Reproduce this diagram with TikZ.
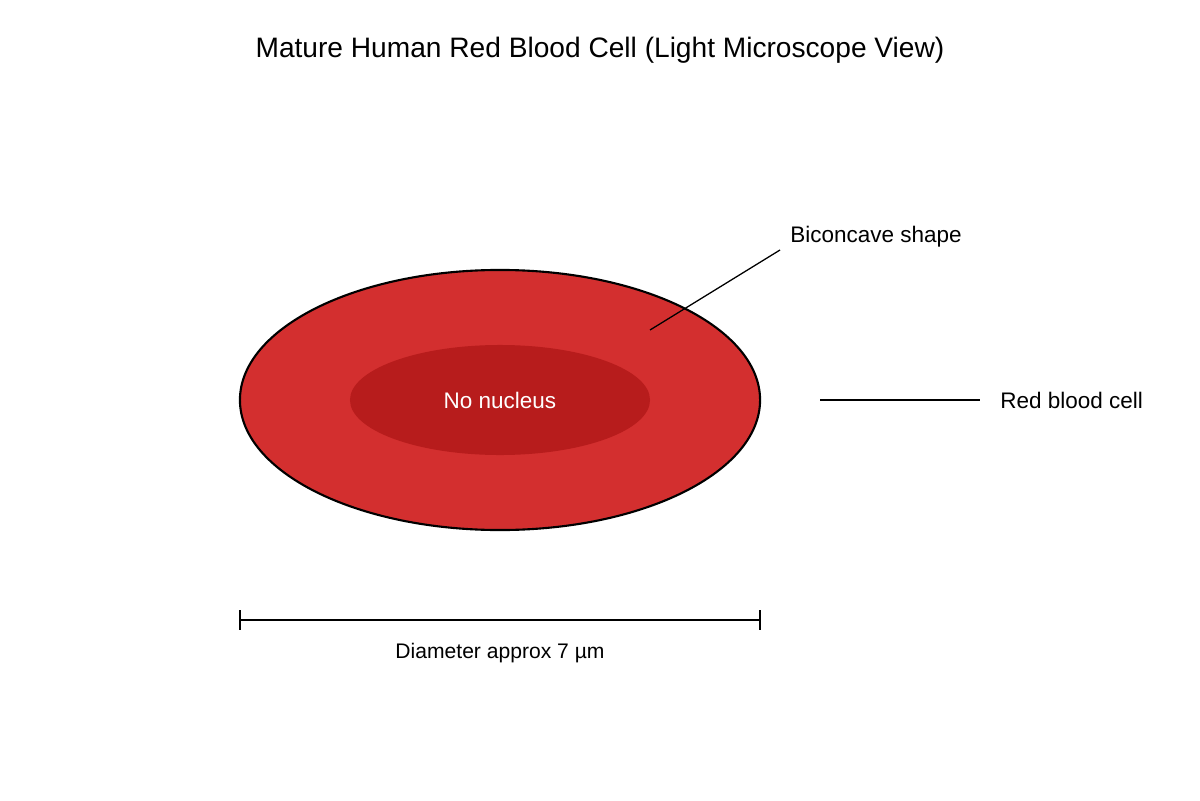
\documentclass[tikz,border=0pt]{standalone}
\usepackage{fontspec}
\setmainfont{Liberation Sans}
\usetikzlibrary{shapes.geometric, positioning}
\definecolor{cellred}{RGB}{211,47,47}
\definecolor{corered}{RGB}{183,28,28}

\begin{document}
\begin{tikzpicture}[
        x=0.025cm, y=-0.025cm,
        cell/.style={ellipse, draw=black, line width=1.5pt, fill=cellred, minimum width=13cm, minimum height=6.5cm, inner sep=0pt},
        core/.style={ellipse, fill=corered, minimum width=7.5cm, minimum height=2.75cm, inner sep=0pt, text=white, font=\fontsize{16}{19}\selectfont},
        lbl/.style={font=\fontsize{16}{19}\selectfont, inner sep=0pt, anchor=west},
        pointer/.style={draw=black, line width=0.9pt}
    ]
        \useasboundingbox (0,0) rectangle (1200,800);
        \node[font=\fontsize{20}{24}\selectfont] (title) at (600,50) {Mature Human Red Blood Cell (Light Microscope View)};

        \node[cell] (rbc) at (500,400) {};
        \node[core] (nucleus) at (500,400) {No nucleus};

        \coordinate (bicon) at (650,330);
        \node[lbl] (biconlbl) at (790,237) {Biconcave shape};
        \draw[pointer] (bicon) -- (780,250);

        \node[lbl] (rbclbl) at (1000,400) {Red blood cell};
        \coordinate (rbcstart) at (820,400);
        \draw[pointer] (rbcstart) -- ([xshift=-0.5cm]rbclbl.west);

        % scale bar
        \coordinate (barl) at (240,620);
        \coordinate (barr) at (760,620);
        \draw[pointer] (barl) -- (barr);
        \draw[pointer] (240,610) -- (240,630);
        \draw[pointer] (760,610) -- (760,630);
        \node[font=\fontsize{15}{18}\selectfont] (diam) at (500,653) {Diameter approx 7 µm};
    \end{tikzpicture}
\end{document}
